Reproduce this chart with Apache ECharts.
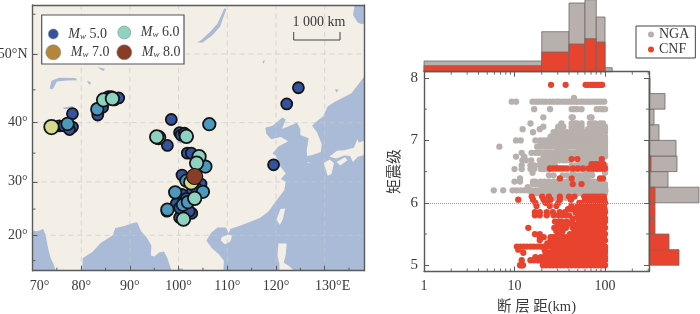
<!DOCTYPE html>
<html><head><meta charset="utf-8">
<style>html,body{margin:0;padding:0;background:#fff}#c{width:700px;height:314px}</style>
<script src="https://cdn.jsdelivr.net/npm/echarts@6/dist/echarts.min.js"></script>
</head><body><div id="c"></div>
<script>
// ---------- map data: [lon, lat] ----------
const seaWest = [[70,12.9],[70,20.9],[71,20.8],[72.2,21.2],[72.7,20],[72.9,19],[73.2,17.5],[73.7,15.6],[74.3,14.4],[74.8,12.9]];
const seaBengal = [[80.2,12.9],[80.3,15.5],[82.3,16.7],[84,18.5],[86.5,20],[87,21.4],[88.5,21.7],[90.5,22.3],[91.5,22.5],[92.3,20.8],[93.5,19.5],[94.4,18],[94.3,16],[95,15.8],[96,16.6],[97,16.8],[97.7,15.5],[98.2,14],[98.6,12.9]];
const seaThai = [[99.7,12.9],[100,13.4],[100.9,13.4],[100.9,12.9]];
const seaPacific = [[109.2,12.9],[109.3,15],[108.3,16.2],[106.8,17.5],[105.7,19],[106.7,20.5],[108,21.5],[109.7,21.5],[110.3,20.4],[110.6,21.2],[113,22],[114.2,22.4],[116.7,23.3],[118.5,24.6],[120,26.5],[121.7,28.5],[122,30],[121,30.5],[122,31.5],[120.9,32.7],[120,34.5],[119.3,35],[120.5,36.1],[122.5,37],[121,37.7],[119,37.3],[118,38.2],[117.8,39.2],[119.3,39.5],[121.3,40.8],[122,40.5],[121.2,39],[122.5,39.4],[124.3,40],[125,39],[125,38],[126.7,37.5],[126.3,35.5],[126.4,34.5],[127.5,34.7],[129.2,35.2],[129.4,36.5],[128.4,38.5],[127.4,39.5],[128,40],[129.7,41],[130.6,42.5],[132,43.2],[135.5,44.5],[138.2,47],[138.2,12.9]];
const seaOkhotsk = [[136.2,56.2],[135.8,54.9],[136.8,54],[137.6,53.8],[138.2,53.9],[138.2,56.2]];
const landJapan = [[138.2,37.1],[137,36.8],[136.7,37.3],[136,35.9],[134,35.5],[132.5,35.4],[131,34.4],[132.4,34.1],[134,34.6],[135.2,34.5],[135.8,33.5],[136.8,34.4],[138.2,34.7]];
const landKyushu = [[129.8,33.3],[131,33.9],[131.9,33.3],[131.4,31.4],[130.6,31.1],[130.2,32.2]];
const landShikoku = [[132.4,33.5],[134.2,34.3],[134.7,33.8],[133.2,32.9]];
const landTaiwan = [[120.1,23],[120.9,25],[121.9,25.1],[121.4,23.1],[120.8,22]];
const landHainan = [[108.7,19],[109.5,18.2],[110.6,18.8],[111,20],[110,20.1],[108.8,19.6]];
const landLuzon = [[120.3,16],[120.5,18.4],[122.2,18.4],[122,16.2],[121.6,14.6],[122.6,14],[123.8,12.9],[120.7,12.9],[120.7,14.4]];
const landJeju = [[126.2,33.3],[126.9,33.5],[126.8,33.25]];
const lakeBaikal = [[103.8,51.5],[104.9,51.5],[106.9,52.4],[108.5,53.5],[109.8,55.6],[109.4,55.7],[108,53.9],[106.4,52.8],[104.6,51.8]];
const lakeBalkhash = [[73.5,45.2],[73.9,46.3],[75.5,46.75],[78.8,46.7],[79.2,46.4],[77,46.35],[75,46.2],[74.2,45.1]];
const lakeAlakol = [[81.2,46.3],[82,46.1],[81.8,45.7],[81.4,46]];
const lakeZaysan = [[83.3,48.2],[84.9,48],[84.5,47.7]];
const lakeIssyk = [[76.2,42.3],[78.3,42.6],[78.2,42.2],[76.6,42.1]];
const lakeQinghai = [[99.7,37],[100.9,37],[100.6,36.6],[99.8,36.8]];
const lakeHulun = [[117.2,49],[117.7,49.2],[117.5,48.7]];
const lakeKhanka = [[132.1,45.1],[132.9,45],[132.4,44.6]];
const lakeTonle = [[104,13],[104.4,12.95],[104.1,12.9]];
const seaPolys = [seaWest, seaBengal, seaThai, seaPacific, seaOkhotsk, lakeBaikal, lakeBalkhash, lakeAlakol, lakeZaysan, lakeIssyk, lakeQinghai, lakeHulun, lakeKhanka, lakeTonle];
const landPolys = [landJapan, landKyushu, landShikoku, landTaiwan, landHainan, landLuzon, landJeju];
const gridLons = [80,90,100,110,120,130];
const gridLats = [20,30,40,50];
const minorLons = [75,85,95,105,115,125,135];
const minorLats = [15,25,35,45,55];

// ---------- earthquakes: [lon, lat] by magnitude group ----------
const quakes50 = [[78.2,41.4],[78.2,39.3],[75.5,39.5],[76.4,39.5],[77.6,38.9],[83.4,41.2],[84.4,42.4],[85.6,44],[86.8,43.5],[87.7,43.8],[86.2,44],[98.5,40.5],[124.6,45.3],[122.2,42.9],[119.5,33],[97.7,36.3],[100.2,38.4],[100.5,38],[101.2,38.3],[101.8,35],[102.6,35],[100.7,31.2],[104.6,29.6],[100.7,27.7],[102.8,28.2],[99.5,26],[102.7,24.2],[100.2,23.4],[102.2,24.6],[97.6,24.6],[103.6,28.9],[101.6,27],[100.2,25.2]];
const quakes55 = [[77.2,39.8],[83.3,42.1],[106.3,39.75],[105.5,32.7],[101.6,30.2],[99.3,28.1],[105,28.2],[100.9,25.8],[101.9,26.3],[97.7,24.9]];
const quakes60 = [[84.6,43.5],[86.4,43.7],[95.9,37.6],[95.5,37.7],[101.6,37.8],[104.2,34.4],[103.7,33.3],[103.3,27],[101,23.1]];
const quakes66 = [[73.9,39.3],[102.6,29.9]];
const quakes70 = [];
const quakes80 = [[103.3,30.95]];

// ---------- scatter data: magnitude rows and fault distances (km) ----------
const ngaMw = [7.68,7.62,7.5,7.37,7.27,7.22,7.18,7.13,7.06,7,6.95,6.9,6.85,6.8,6.76,6.74,6.68,6.6,6.54,6.48,6.44,6.39,6.34,6.3,6.25,6.2,6.15,6.08];
const ngaKm = [
 [45.4],
 [9.3,10.4,15.8,17.2,18.6,20.4,22,24.3,26.5,28.9,31,34,36.8,40,43,47,50,54,58,63,68,73,79,85,91,98],
 [16.5,24.7,42.8,46,49.4,55,81,88,94,100],
 [20.8,42.8,44,68,71],
 [15,33,42.8,46,49,55,68,73,77.7,88,95],
 [20.8,30.5,34.6,42.8,49,53,55,71,78,86,93,100],
 [12.3,19,30,33,42.8,49,55,65,70,77,84,92,100],
 [16,27,29.6,33,37.5,42.8,46,49,55,62,68,74,80,86,93,100],
 [25,28,31,34,38,42,46,50,55,60,66,72,78,85,92,100],
 [10.4,11.7,17,19.2,21,23,25,27,29,31.5,34,37,40,43,46,50,54,58,62,67,72,77,83,89,95,100],
 [19.5,22,24,26.5,29,32,35,38,41,45,49,53,57,62,67,73,79,85,92,100],
 [6.8,17.8,19.5,21.4,23,25,27.5,30,33,36,39,42,46,50,54,59,64,69,75,81,87,94,100],
 [30,33,36,52,58,64,70,76,82,88,94,100],
 [12,15.4,17,18.5,20,22,24,26,28.5,31,34,37,40,44,48,52,57,62,67,73,79,86,93,100],
 [23,25,27,30,33,36,39,43,47,51,56,61,66,72,78,85,92,100],
 [10.4,12.8,21,23.5,26,29,32,36,40,44,49,54,60,66,72,78,85,92,100],
 [12.2,13.4,15.3,19,21,23,25.5,28,31,34,37,41,52,58,64,71,78,85,92],
 [12,15,16.6,19,21,23,25.5,28,43,47,52,56,61,66,72,78,85,100],
 [10,12,15,16.5,19.5,21,23,24.5,42,46,50,54,59,64,69,75,82,100],
 [15.8,44,62,70,100],
 [24,27,34,38,47,51,55,66,72],
 [11.5,52,56,60,64],
 [10,11.5,16,17,19.5,21.5,24,27,30,34,38,42,46,50,56,62,70,76,84],
 [16,17.4,19,21,23,25,27.5,30,33,36,39,43,47,51,56,61,66,72,78,85,92,100],
 [14,20,22,24.5,27,30,33,37,41,45,49,54,59,65,71,78,85,93,100],
 [5.9,7.5,9.5,10.5,11.6,12.8,14,15.4,17,18.5,20.2,22,24,26.2,28.6,31,34,37,40.5,44,48,52.5,57,62,68,74,81,88,95,101],
 [15.5,17,19,21,23,26,29,32,36,40,44,48,53,58,64,70,77,84,92,100],
 [20.5,22,24,26,27.5,37,41]
];
const cnfMw = [7.89,6.7,6.62,6.55,6.39,6.3,6.1,6.05,6,5.95,5.9,5.85,5.8,5.75,5.7,5.65,5.6,5.55,5.5,5.45,5.4,5.35,5.3,5.25,5.2,5.13,5.08,5];
const cnfKm = [
 [25.3,36.7,61,65,70,74,78,82,86,90,93],
 [42.8,49.4,92],
 [71,76,82,90,96],
 [24.6,26.5,28.5,30.5,32.5,35,37.8,44,50,57,66,71,76,81,86,91,96,100],
 [31.7,42.8,88,95],
 [44,55],
 [15.5,20.2,24,31.7,40,46,59,64,69,74,79,85,91,97],
 [11,16,21,25,31.7,42,60,65,70,75,80,86,92,98],
 [17,22,23.5,30.5,52,57,62,67,72,78,84,90,96,100],
 [17.5,24.5,29,42.5,50,54,58,63,68,73,79,85,91,97],
 [39,42,45,48,53,57,61,65,70,75,81,87,93,99],
 [16.8,19,22.7,26.5,31.5,36,47,52,57,62,68,74,80,86,93,100],
 [16.8,19,22.7,27,30.5,33.5,37,40,50,54,59,64,70,76,83,90,97],
 [44,50,55,60,66,72,78,85,92,100],
 [28,31,33,37.5,43,52,56,61,66,72,78,85,92,100],
 [30,33,38,44,48,53,58,64,70,76,83,90,97],
 [14.2,27.5,30.5,33,37,44,48,53,58,64,70,76,83,91,100],
 [29,34,46,51,57,62,68,74,81,88,96],
 [16.8,19,30.3,33,41,45,49,53,58,63,69,75,82,90,100],
 [19,21,25,27,29,32,35,38,42,46,50,55,60,66,73,80,88,97],
 [19,25,27,29.5,32,35,38,42,46,50,55,60,66,72,79,87,95,100],
 [23,26,28.5,31,34,37,41,45,49,54,59,65,71,78,86,94],
 [10.6,11.6,12.6,13.7,15,16.3,17.8,19.3,21,24,26,28.5,31,34,37,41,45,49,54,59,65,71,78,86,94,100],
 [11,21.5,27,29.5,32,35,39,43,47,52,58,64,70,77,85,93,100],
 [12.5,22,24,26,28.5,31,34,37,41,45,49,54,60,68,75,83,91,100],
 [17,19.5,21.5,23.5,25.5,28,30.5,33.5,37,41,45,50,55,61,67,74,82,90,100],
 [12,15,16.5,18,19,21.5,23.5,25.5,28,30.5,33.5,37,41,45,50,55,61,67,74,82,90,100],
 [11.5,12.4,12,20.6,22.4,24.5,26.6,29,32,35,38.5,42.5,47,52,57,63,69,76,84,92,100]
];

// ---------- histograms: [lo, hi, height] ----------
const topNga = [[1,20,10.7],[20,40,40],[40,60,68.7],[60,80,72],[80,100,54.7],[100,120,4]];
const topCnf = [[1,20,6],[20,40,19.7],[40,60,27.7],[60,80,33],[80,100,29.7]];
const sideNga = [[6,6.25,50],[6.25,6.5,19],[6.5,6.75,28],[6.75,7,27],[7,7.25,10],[7.25,7.5,5],[7.5,7.75,16]];
const sideCnf = [[5,5.25,30],[5.25,5.5,20],[5.5,5.75,6],[5.75,6,6],[6,6.25,6],[6.25,6.5,1],[6.5,6.75,2],[6.75,7,0.5],[7.75,8,1]];

// ---------- tick lists ----------
const mapXTicks = [70,80,90,100,110,120,130];
const scatterYTicks = [5,6,7,8];
const scatterYMinor = [5.5,6.5,7.5];
const logXTicks = [1,10,100];
const logXMinor = [2,3,4,5,6,7,8,9,20,30,40,50,60,70,80,90,200,300];

// ---------- helpers ----------
const merc = lat => 180/Math.PI*Math.log(Math.tan(Math.PI/4+lat*Math.PI/360));
const unmerc = y => (2*Math.atan(Math.exp(y*Math.PI/180))-Math.PI/2)*180/Math.PI;
const latLo = 12.98, latHi = 56.08, lonLo = 70, lonHi = 138.07;
const mapYTicks = gridLats.map(merc);
const latLabel = {20:'20°',30:'30°',40:'40°',50:'50°N'};
const FONT = "'Liberation Serif','Noto Sans CJK SC',serif";
const INK = '#3a3a3a', FRAME = '#5a5a5a';
const GREY = '#b7b0ac', RED = '#e8432e', EDGE = '#6d6a68';
const mc = p => [p[0], merc(p[1])];

const frameAxis = (extra) => Object.assign({
  axisLine:{show:true,onZero:false,lineStyle:{color:FRAME,width:1.4}},
  axisTick:{show:false}, axisLabel:{show:false}, splitLine:{show:false}, z:6
}, extra);

function polySeries(polys, fill, z){
  return {type:'custom',xAxisIndex:0,yAxisIndex:0,z,clip:true,silent:true,
    data:polys.map((_,i)=>[lonLo,merc(20),i]),
    encode:{x:0,y:1},
    renderItem(params,api){
      const pts=polys[params.dataIndex].map(p=>api.coord(mc(p)));
      return {type:'polygon',shape:{points:pts},style:{fill}};
    }};
}
function quakeSeries(name,data,color,size,bw){
  return {type:'scatter',name,xAxisIndex:0,yAxisIndex:0,data:data.map(mc),symbol:'circle',symbolSize:size,z:3,silent:true,
    itemStyle:{color,borderColor:'#141414',borderWidth:bw,opacity:1}};
}
function topHist(data,fill,z){
  return {type:'custom',xAxisIndex:4,yAxisIndex:4,z,silent:true,data,encode:{x:[0,1],y:2},
    renderItem(p,api){
      const a=api.coord([api.value(0),0]),b=api.coord([api.value(1),api.value(2)]);
      return {type:'rect',shape:{x:a[0],y:b[1],width:b[0]-a[0],height:a[1]-b[1]},style:{fill,stroke:EDGE,lineWidth:0.8}};
    }};
}
function sideHist(data,fill,z){
  return {type:'custom',xAxisIndex:5,yAxisIndex:5,z,silent:true,data,encode:{x:2,y:[0,1]},
    renderItem(p,api){
      const a=api.coord([0,api.value(0)]),b=api.coord([api.value(2),api.value(1)]);
      return {type:'rect',shape:{x:a[0],y:b[1],width:b[0]-a[0],height:a[1]-b[1]},style:{fill,stroke:EDGE,lineWidth:0.8}};
    }};
}
const rows = (mw,km) => km.flatMap((list,i)=>list.map(k=>[k,mw[i]]));
const line = (a,b,style)=>({type:'line',shape:{x1:a[0],y1:a[1],x2:b[0],y2:b[1]},style});

const graticule = {type:'custom',xAxisIndex:0,yAxisIndex:0,z:2,clip:true,silent:true,
  data:[[lonLo,merc(20)]],encode:{x:0,y:1},
  renderItem(p,api){
    const s={stroke:'#c9c9c9',lineWidth:0.9,lineDash:[5,4],opacity:0.75};
    const c=[];
    gridLons.forEach(v=>c.push(line(api.coord([v,merc(latLo)]),api.coord([v,merc(latHi)]),s)));
    gridLats.forEach(v=>c.push(line(api.coord([lonLo,merc(v)]),api.coord([lonHi,merc(v)]),s)));
    return {type:'group',children:c};
  }};
const mapMinor = {type:'custom',xAxisIndex:0,yAxisIndex:0,z:5,silent:true,
  data:[[lonLo,merc(20)]],encode:{x:0,y:1},
  renderItem(p,api){
    const s={stroke:FRAME,lineWidth:1};const c=[];
    minorLons.forEach(v=>{const a=api.coord([v,merc(latLo)]);c.push(line(a,[a[0],a[1]-3],s));});
    minorLats.forEach(v=>{const a=api.coord([lonLo,merc(v)]);c.push(line(a,[a[0]+3,a[1]],s));});
    return {type:'group',children:c};
  }};
const scatterMinor = {type:'custom',xAxisIndex:2,yAxisIndex:2,z:5,silent:true,
  data:[[1,5]],encode:{x:0,y:1},
  renderItem(p,api){
    const s={stroke:FRAME,lineWidth:0.9};const c=[];
    logXMinor.forEach(v=>{
      const a=api.coord([v,4.9]),b=api.coord([v,8.1]);
      c.push(line(a,[a[0],a[1]-3],s));c.push(line(b,[b[0],b[1]+3],s));
    });
    scatterYMinor.forEach(v=>{
      const a=api.coord([1,v]),b=api.coord([306,v]);
      c.push(line(a,[a[0]+3,a[1]],s));c.push(line(b,[b[0]-3,b[1]],s));
    });
    return {type:'group',children:c};
  }};

const lonFmt = v => v===70?'{a|70°}':v===130?'{b|130°E}':v+'°';
const mwRich = {
  m:{fontFamily:FONT,fontStyle:'italic',fontSize:14,color:INK,padding:[0,0,0,5]},
  w:{fontFamily:FONT,fontStyle:'italic',fontSize:9,color:INK,verticalAlign:'bottom',padding:[5,0,0,0]},
  v:{fontFamily:FONT,fontSize:14,color:INK}
};
function mwLegend(name,left,cy,size){
  return {data:[name],left,top:cy-size/2,padding:0,itemWidth:size,itemHeight:size,icon:'circle',selectedMode:false,z:8,
    itemStyle:{borderColor:'#8b8b8b',borderWidth:0.6},
    formatter:n=>'{m|M}{w|w}{v| '+n.split(' ')[1]+'}',
    textStyle:{rich:mwRich}};
}

const option = {
  animation:false,
  backgroundColor:'#fff',
  textStyle:{fontFamily:FONT},
  grid:[
    {left:32.5,top:5,width:331.5,height:265.7,backgroundColor:'#f3eee6',show:true,borderWidth:0,outerBoundsMode:'none'},
    {left:424,top:71.7,width:225,height:199.8,outerBoundsMode:'none'},
    {left:424,top:0,width:225,height:71.7,outerBoundsMode:'none'},
    {left:649,top:71.7,width:51,height:199.8,outerBoundsMode:'none'}
  ],
  xAxis:[
    frameAxis({gridIndex:0,type:'value',min:lonLo,max:lonHi,position:'bottom',
      axisTick:{show:true,inside:true,length:5,customValues:mapXTicks,lineStyle:{color:FRAME}},
      axisLabel:{show:true,customValues:mapXTicks,margin:9,fontFamily:FONT,fontSize:14,color:INK,formatter:lonFmt,
        rich:{a:{fontFamily:FONT,fontSize:14,color:INK,padding:[0,0,0,14]},b:{fontFamily:FONT,fontSize:14,color:INK,padding:[0,0,0,16]}}}}),
    frameAxis({gridIndex:0,type:'value',min:lonLo,max:lonHi,position:'top'}),
    frameAxis({gridIndex:1,type:'log',logBase:10,min:1,max:306,position:'bottom',
      name:'断 层 距(km)',nameLocation:'middle',nameGap:28,nameTextStyle:{fontFamily:FONT,fontSize:14.5,color:INK},
      axisTick:{show:true,inside:true,length:5,customValues:logXTicks,lineStyle:{color:FRAME}},
      axisLabel:{show:true,customValues:logXTicks,margin:8,fontFamily:FONT,fontSize:14,color:INK}}),
    frameAxis({gridIndex:1,type:'log',logBase:10,min:1,max:306,position:'top',
      axisTick:{show:true,inside:true,length:5,customValues:logXTicks,lineStyle:{color:FRAME}}}),
    {gridIndex:2,type:'log',logBase:10,min:1,max:306,show:false},
    {gridIndex:3,type:'value',min:0,max:51,show:false}
  ],
  yAxis:[
    frameAxis({gridIndex:0,type:'value',min:merc(latLo),max:merc(latHi),position:'left',
      axisTick:{show:true,inside:true,length:5,customValues:mapYTicks,lineStyle:{color:FRAME}},
      axisLabel:{show:true,customValues:mapYTicks,margin:5,fontFamily:FONT,fontSize:14,color:INK,
        formatter:v=>latLabel[Math.round(unmerc(v))]}}),
    frameAxis({gridIndex:0,type:'value',min:merc(latLo),max:merc(latHi),position:'right'}),
    frameAxis({gridIndex:1,type:'value',min:4.9,max:8.1,position:'left',
      name:'矩震级',nameLocation:'middle',nameGap:21,nameRotate:90,nameTextStyle:{fontFamily:FONT,fontSize:15,color:INK},
      axisTick:{show:true,inside:true,length:5,customValues:scatterYTicks,lineStyle:{color:FRAME}},
      axisLabel:{show:true,customValues:scatterYTicks,margin:6,fontFamily:FONT,fontSize:15,color:INK}}),
    frameAxis({gridIndex:1,type:'value',min:4.9,max:8.1,position:'right',
      axisTick:{show:true,inside:true,length:5,customValues:scatterYTicks,lineStyle:{color:FRAME}}}),
    {gridIndex:2,type:'value',min:0,max:71.7,show:false},
    {gridIndex:3,type:'value',min:4.9,max:8.1,show:false}
  ],
  legend:[
    mwLegend('Mw 5.0',48,32,10),
    mwLegend('Mw 6.0',117.5,32,13),
    mwLegend('Mw 7.0',45.5,52,15),
    mwLegend('Mw 8.0',116.5,52,15),
    {data:['NGA','CNF'],orient:'vertical',left:636,top:26,padding:[1,6,1,12],itemGap:0,itemWidth:6,itemHeight:6,icon:'circle',
      selectedMode:false,backgroundColor:'#fff',borderColor:'#444',borderWidth:1,z:8,
      textStyle:{fontFamily:FONT,fontSize:14,color:INK,lineHeight:15}}
  ],
  graphic:[
    {type:'rect',z:7,shape:{x:41.7,y:15,width:142.3,height:49},style:{fill:'#fff',stroke:'#555',lineWidth:1.2}},
    {type:'polyline',z:7,shape:{points:[[293.7,32],[293.7,40],[340,40],[340,32]]},style:{fill:'none',stroke:'#444',lineWidth:1}},
    {type:'text',z:7,style:{x:319,y:22,text:'1 000 km',fontFamily:FONT,fontSize:14,fill:INK,align:'center',verticalAlign:'middle'}}
  ],
  series:[
    polySeries(seaPolys,'#a9bbd6',1),
    polySeries(landPolys,'#f3eee6',1.5),
    graticule,
    mapMinor,
    quakeSeries('q50',quakes50,'#34539f',11,1.8),
    quakeSeries('q55',quakes55,'#4b9abd',12.5,1.8),
    quakeSeries('q66',quakes66,'#d3dc8b',14.5,1.8),
    quakeSeries('Mw 5.0',[], '#34539f',11,1.8),
    quakeSeries('Mw 6.0',quakes60,'#8ed2c1',13.5,1.8),
    quakeSeries('Mw 7.0',quakes70,'#b5853a',15,1.8),
    quakeSeries('Mw 8.0',quakes80,'#8a3d26',16,1.2),
    {type:'scatter',name:'NGA',xAxisIndex:2,yAxisIndex:2,data:rows(ngaMw,ngaKm),symbol:'circle',symbolSize:6.3,z:3,silent:true,
      itemStyle:{color:GREY,opacity:1},
      markLine:{silent:true,symbol:'none',label:{show:false},data:[{yAxis:6}],lineStyle:{color:'#9a9a9a',type:'dotted',width:1},animation:false}},
    {type:'scatter',name:'CNF',xAxisIndex:2,yAxisIndex:2,data:rows(cnfMw,cnfKm),symbol:'circle',symbolSize:6.3,z:4,silent:true,
      itemStyle:{color:RED,opacity:1}},
    scatterMinor,
    topHist(topNga,GREY,2),
    topHist(topCnf,RED,3),
    sideHist(sideNga,GREY,2),
    sideHist(sideCnf,RED,3)
  ]
};
const chart = echarts.init(document.getElementById('c'),null,{renderer:'canvas'});
chart.setOption(option);
</script></body></html>
